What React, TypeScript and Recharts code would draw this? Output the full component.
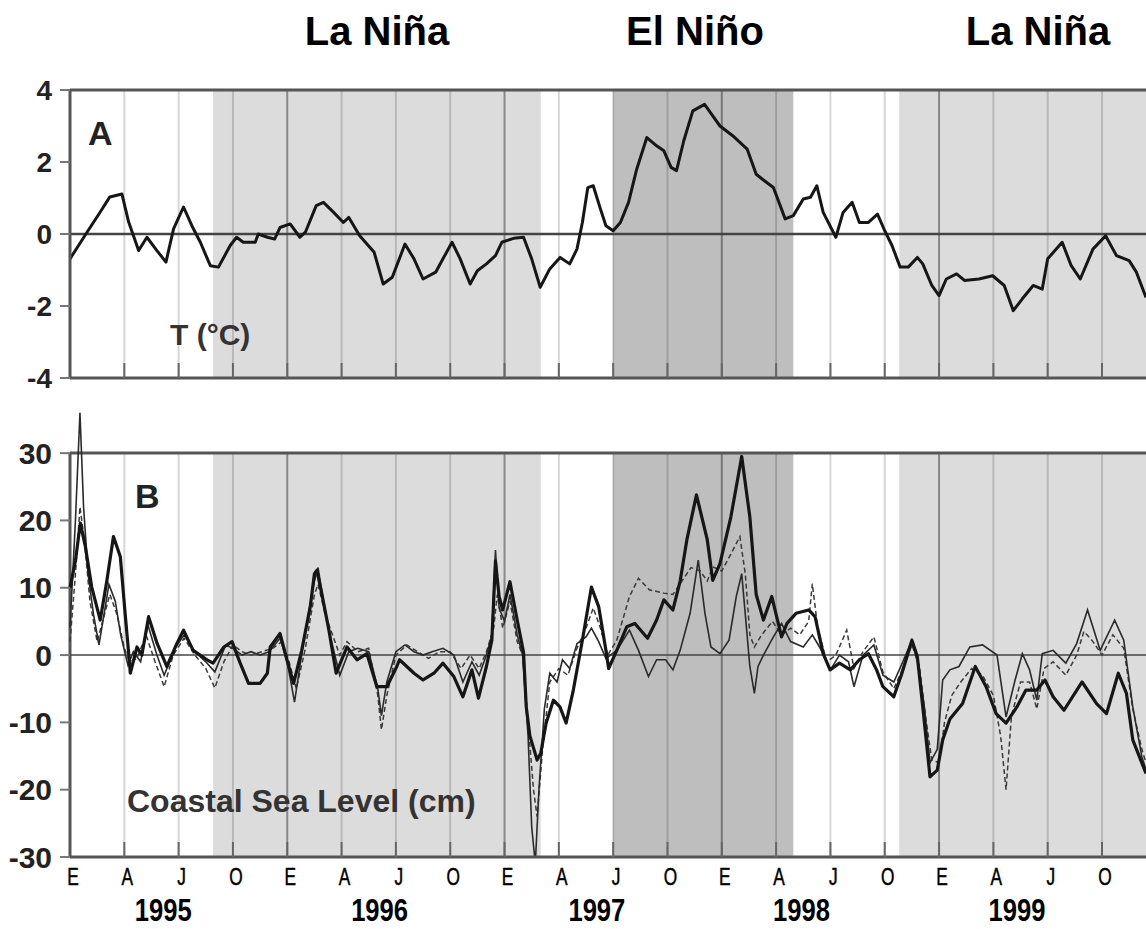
import React from "react";
import { ComposedChart, Line, XAxis, YAxis, ReferenceArea, ReferenceLine, ReferenceDot } from "recharts";

const FONT = '"Liberation Sans", Arial, Helvetica, sans-serif';
const X_MAX = 59.43; // months since Jan 1995

// x axis: quarter ticks (Spanish month initials) and year labels
const quarterTicks = [0, 3, 6, 9, 12, 15, 18, 21, 24, 27, 30, 33, 36, 39, 42, 45, 48, 51, 54, 57];
const quarterLetters = ["E", "A", "J", "O"];
const yearTicks = [5.15, 17.1, 29.1, 40.4, 52.3];
const yearLabels = ["1995", "1996", "1997", "1998", "1999"];

// ENSO phases (start / end month)
const phaseNames = ["La Niña", "El Niño", "La Niña"];
const phaseStart = [7.9, 30.0, 45.8];
const phaseEnd = [26.0, 39.95, X_MAX];
const phaseFill = ["#dcdcdc", "#bebebe", "#dcdcdc"];

const tempTicks = [-4, -2, 0, 2, 4];
const seaTicks = [-30, -20, -10, 0, 10, 20, 30];

// A: temperature anomaly (°C), [month, value]
const temperature: [number, number][] = [
  [0, -0.69], [0.94, 0.05], [1.67, 0.61], [2.2, 1.03], [2.87, 1.11], [3.24, 0.33], [3.79, -0.46],
  [4.25, -0.09], [4.8, -0.46], [5.3, -0.78], [5.72, 0.14], [6.27, 0.75], [6.73, 0.23], [7.2, -0.23],
  [7.75, -0.88], [8.2, -0.92], [8.85, -0.32], [9.2, -0.09], [9.57, -0.23], [10.23, -0.23], [10.4, 0],
  [10.9, -0.09], [11.3, -0.14], [11.6, 0.18], [12.16, 0.28], [12.7, -0.09], [13.0, 0.05], [13.6, 0.79],
  [14.0, 0.88], [14.56, 0.6], [15.1, 0.32], [15.4, 0.46], [16.0, -0.05], [16.8, -0.51], [17.3, -1.39],
  [17.8, -1.2], [18.5, -0.28], [19.0, -0.69], [19.5, -1.25], [20.2, -1.06], [20.6, -0.69], [21.1, -0.23],
  [21.55, -0.69], [22.1, -1.39], [22.5, -1.02], [23.0, -0.83], [23.5, -0.6], [23.85, -0.23], [24.5, -0.12],
  [25.05, -0.09], [25.5, -0.69], [25.97, -1.48], [26.5, -0.97], [27.07, -0.65], [27.6, -0.83], [28.0, -0.42],
  [28.3, 0.32], [28.6, 1.29], [28.9, 1.34], [29.3, 0.69], [29.6, 0.23], [30.0, 0.09], [30.4, 0.32],
  [30.85, 0.88], [31.3, 1.8], [31.86, 2.68], [32.4, 2.45], [32.8, 2.31], [33.2, 1.85], [33.5, 1.76],
  [33.9, 2.59], [34.4, 3.42], [35.05, 3.6], [35.5, 3.28], [35.9, 3.0], [36.6, 2.73], [37.4, 2.36],
  [37.9, 1.66], [38.3, 1.5], [38.85, 1.29], [39.5, 0.42], [39.95, 0.51], [40.5, 0.97], [40.9, 1.02],
  [41.25, 1.34], [41.6, 0.6], [42.3, -0.09], [42.7, 0.6], [43.2, 0.88], [43.6, 0.32], [44.1, 0.32],
  [44.6, 0.55], [45.0, 0.09], [45.4, -0.32], [45.85, -0.92], [46.3, -0.92], [46.8, -0.65], [47.1, -0.83],
  [47.6, -1.43], [48.0, -1.71], [48.4, -1.25], [48.97, -1.11], [49.4, -1.29], [50.2, -1.25], [50.96, -1.16],
  [51.6, -1.43], [52.1, -2.13], [52.6, -1.8], [53.2, -1.43], [53.7, -1.53], [54.0, -0.69], [54.8, -0.23],
  [55.3, -0.88], [55.8, -1.25], [56.5, -0.42], [57.2, -0.05], [57.8, -0.6], [58.5, -0.74], [58.9, -1.06],
  [59.43, -1.76],
];

// B: coastal sea level (cm), three stations, [month, value]
const seaBold: [number, number][] = [
  [0, 10], [0.3, 14], [0.57, 19.6], [0.85, 16.1], [1.2, 10.1], [1.67, 5.2], [2.04, 11.1], [2.4, 17.6],
  [2.78, 14.6], [3.05, 6], [3.24, 0.3], [3.33, -2.7], [3.7, 1.2], [3.97, 0], [4.34, 5.7], [4.8, 1.8],
  [5.35, -1.7], [5.9, 1.7], [6.27, 3.7], [6.8, 0.7], [7.57, -0.7], [7.9, -1.2], [8.5, 1.2], [8.95, 2.0],
  [9.4, -1.2], [9.86, -4.2], [10.5, -4.2], [10.9, -2.7], [11.06, 1.2], [11.6, 3.2], [11.98, -0.7],
  [12.35, -4.2], [12.8, 0.7], [13.27, 7.2], [13.5, 12.1], [13.64, 12.6], [13.9, 9.2], [14.3, 3.7],
  [14.7, -2.7], [15.3, 1.2], [15.85, -0.7], [16.4, 0.2], [16.95, -4.7], [17.5, -4.7], [18.05, -1.7],
  [18.2, -0.7], [19.0, -2.7], [19.5, -3.7], [20.1, -2.7], [20.6, -1.2], [21.2, -3.2], [21.7, -6.2],
  [22.2, -2.2], [22.56, -6.4], [23.0, -1.7], [23.3, 2.2], [23.5, 14], [23.7, 8.7], [23.9, 6.7],
  [24.3, 10.9], [24.7, 5.2], [25.05, 0.4], [25.2, -7.7], [25.4, -12], [25.8, -15.6], [26.0, -14.6],
  [26.3, -10.1], [26.7, -6.7], [27.06, -7.7], [27.4, -10.1], [27.8, -5.2], [28.3, 2.2], [28.8, 10.1],
  [29.2, 7.2], [29.6, 0.7], [29.75, -2.0], [30.2, 0.7], [30.75, 4.2], [31.2, 4.7], [31.9, 2.5],
  [32.4, 5.2], [32.8, 8.2], [33.3, 6.7], [33.7, 11], [34.07, 17.1], [34.6, 23.8], [35.2, 17.1],
  [35.5, 11.1], [35.9, 13.6], [36.5, 20.5], [37.1, 29.5], [37.55, 20.5], [37.9, 9], [38.3, 5.2],
  [38.76, 8.7], [39.3, 2.7], [39.6, 4.7], [40.1, 6.2], [40.8, 6.7], [41.15, 5.7], [41.6, 0.2],
  [41.98, -2.2], [42.5, -1.2], [43.1, -2.2], [43.6, -0.7], [44.1, 0.2], [44.55, -2.2], [44.9, -4.7],
  [45.5, -6.2], [45.95, -2.7], [46.5, 2.2], [46.8, -0.2], [47.1, -7.7], [47.5, -18.1], [47.9, -17.1],
  [48.2, -12.6], [48.6, -9.5], [49.3, -7.2], [50.0, -1.7], [50.6, -4.7], [51.15, -8.7], [51.7, -10.1],
  [52.3, -7.7], [52.8, -5.2], [53.4, -5.2], [53.85, -3.7], [54.3, -6.2], [54.9, -8.2], [55.9, -4.0],
  [56.7, -7.2], [57.25, -8.7], [57.9, -2.7], [58.35, -5.7], [58.7, -12.6], [59.43, -17.6],
];

const seaThin: [number, number][] = [
  [0, 4], [0.3, 20], [0.55, 36], [0.75, 22], [1.0, 12], [1.3, 6], [1.6, 1.5], [2.0, 8], [2.15, 10.5],
  [2.5, 8], [2.8, 3], [3.2, -1.5], [3.5, 0.5], [3.9, -1], [4.3, 4.5], [4.8, 0], [5.2, -3], [5.8, 1],
  [6.3, 3], [6.9, 0.5], [7.5, -1], [8.0, -2.5], [8.6, 1.5], [9.0, 1], [9.5, 0], [10.0, 0.5], [10.5, 0],
  [11.0, 0.5], [11.6, 2.5], [12.0, -1], [12.4, -7], [12.9, 2], [13.5, 11], [13.7, 13], [14.0, 8],
  [14.4, 2.5], [14.9, -3], [15.4, 0.5], [15.9, 1], [16.5, 0.5], [17.0, -5], [17.2, -9], [17.5, -4],
  [18.0, 0.5], [18.5, 1.5], [19.0, 0.5], [19.5, 0], [20.0, 0.5], [20.6, 1], [21.2, 0], [21.7, -4],
  [22.2, -1], [22.6, -3], [23.0, 0], [23.3, 3], [23.5, 15.6], [23.7, 7], [24.0, 5], [24.3, 9], [24.7, 3],
  [25.0, 0], [25.3, -12], [25.5, -25.5], [25.7, -31], [25.9, -20], [26.2, -8], [26.5, -2.7], [26.9, -4],
  [27.2, -0.7], [27.6, -2], [28.0, 1.7], [28.5, 2.7], [28.8, 4], [29.2, 2], [29.6, -0.5], [30.2, 0.7],
  [30.9, 3.7], [31.4, 0.7], [31.95, -3.2], [32.4, -0.7], [32.9, -0.7], [33.3, -2.2], [33.7, 0.7],
  [34.25, 6.2], [34.7, 14.1], [35.07, 6.2], [35.4, 1.2], [35.9, 0.2], [36.4, 2.2], [36.8, 8.7],
  [37.1, 12.1], [37.55, -1.7], [37.8, -5.7], [38.0, -1.7], [38.3, 0], [38.85, 2.7], [39.3, 4.7],
  [39.8, 2.0], [40.5, 1.2], [41.0, 3], [41.4, 1.2], [42.0, -2.2], [42.5, 0], [43.0, -1], [43.3, -4.7],
  [43.8, 0], [44.4, 1.5], [44.9, -3], [45.5, -4], [46.0, -1], [46.5, 2.2], [46.9, -2], [47.2, -8],
  [47.5, -16], [47.9, -14], [48.2, -3.7], [48.6, -2.2], [49.1, -1.7], [49.7, 1.2], [50.4, 1.5],
  [51.2, 0], [51.7, -9.2], [52.2, -3.7], [52.6, 0.2], [53.0, -2.2], [53.4, -6.7], [53.7, 0.2],
  [54.3, 0.7], [55.0, -1.2], [55.6, 1.7], [56.2, 6.7], [56.9, 0.7], [57.7, 5.2], [58.2, 2.2],
  [58.7, -7.7], [59.2, -15.1], [59.43, -17],
];

const seaDashed: [number, number][] = [
  [0, 2], [0.3, 12], [0.55, 22], [0.8, 17], [1.1, 8], [1.5, 2], [1.9, 6], [2.2, 9], [2.6, 6], [3.0, 1],
  [3.3, -1], [3.7, -0.5], [4.2, 3], [4.7, -1], [5.2, -4.7], [5.7, 0], [6.3, 2.5], [6.9, 0], [7.5, -2],
  [8.0, -4.9], [8.5, -1], [9.0, 1.5], [9.5, 0.5], [10.0, 0], [10.6, 0.5], [11.2, 1], [11.7, 2], [12.1, -1],
  [12.5, -5], [13.0, 1], [13.5, 9], [13.7, 10.5], [14.1, 6], [14.5, 3], [14.9, 0], [15.3, 2], [15.9, 0.5],
  [16.5, 1], [17.0, -6], [17.2, -11.1], [17.5, -6], [18.0, 0], [18.6, 1.5], [19.2, 0.5], [19.8, -0.5],
  [20.4, 0.5], [21.0, 0.5], [21.6, -2], [22.1, 0], [22.6, -2], [23.0, 0.5], [23.4, 4], [23.6, 9],
  [23.9, 4], [24.3, 8], [24.7, 2], [25.0, 0], [25.3, -10], [25.6, -20], [25.8, -24], [26.1, -14],
  [26.5, -4], [27.0, -2], [27.5, -3], [28.0, 1], [28.5, 4], [28.9, 7], [29.3, 4], [29.7, 0], [30.2, 2.2],
  [30.9, 8.7], [31.4, 11.4], [32.0, 9.7], [32.8, 9.2], [33.3, 9], [33.8, 11], [34.3, 13], [34.8, 12.5],
  [35.2, 11], [35.5, 13.1], [36.0, 12.5], [36.5, 15], [37.0, 17.6], [37.3, 12], [37.55, 3], [37.8, 1.2],
  [38.2, 3], [38.8, 5], [39.3, 3], [39.8, 4], [40.3, 3], [40.8, 5], [41.0, 10.6], [41.3, 4], [41.8, -1],
  [42.3, 0], [42.9, 3.7], [43.3, -2], [43.8, 0.5], [44.4, 2.7], [44.9, -2.5], [45.5, -5], [46.0, -2],
  [46.5, 1.5], [46.9, -1.5], [47.3, -10], [47.6, -15.6], [48.0, -16], [48.3, -10], [48.7, -6], [49.2, -4],
  [49.8, -2], [50.4, -3], [51.0, -6], [51.4, -12], [51.7, -20], [52.0, -9], [52.5, -4], [53.0, -4],
  [53.4, -8], [53.8, -2], [54.3, -1], [55.0, -3], [55.6, 0], [56.0, 3.5], [56.5, 2], [57.0, 0], [57.6, 3],
  [58.2, 1], [58.7, -8], [59.2, -14], [59.43, -16],
];

const toRows = (pts: [number, number][]) => pts.map(([m, v]) => ({ m, v }));

const gridStroke = (m: number) => (m % 12 === 0 ? "rgba(0,0,0,0.38)" : "rgba(0,0,0,0.16)");

function InnerTick(props: any) {
  const { x, y, payload } = props;
  if (payload.value === 0) return <g />;
  return <line x1={x} x2={x} y1={y} y2={y - 15} stroke="#666" strokeWidth={2} />;
}

function MonthTick(props: any) {
  const { x, y, payload } = props;
  const letter = quarterLetters[Math.round(payload.value / 3) % 4];
  return (
    <g>
      {payload.value > 0 && <line x1={x} x2={x} y1={y} y2={y - 15} stroke="#666" strokeWidth={2} />}
      <text
        transform={`translate(${x + 3},${y + 28}) scale(0.72,1)`}
        textAnchor="middle"
        fontSize={24}
        fontFamily={FONT}
        fill="#000"
        stroke="#000"
        strokeWidth={0.5}
      >
        {letter}
      </text>
    </g>
  );
}

// year caption drawn under the month row, anchored on a zero-size reference dot at y = -30
function yearLabel(text: string) {
  return (p: any) => {
    const vb = p.viewBox || {};
    const cx = (vb.x ?? 0) + (vb.width ?? 0) / 2;
    const cy = (vb.y ?? 0) + (vb.height ?? 0) / 2;
    return (
      <text
        transform={`translate(${cx},${cy + 64}) scale(0.8,1)`}
        textAnchor="middle"
        fontSize={32}
        fontWeight={700}
        fontFamily={FONT}
        fill="#000"
      >
        {text}
      </text>
    );
  };
}

const yTickStyle = { fill: "#222", fontSize: 28, fontWeight: 700, fontFamily: FONT };

const labelStyle: React.CSSProperties = {
  position: "absolute",
  fontFamily: FONT,
  fontWeight: 700,
  lineHeight: 1,
  whiteSpace: "nowrap",
  color: "#222",
};

export default function App() {
  const tempRows = toRows(temperature);
  return (
    <div style={{ position: "absolute", left: 0, top: 0, width: 1146, height: 929, background: "#fff", overflow: "hidden" }}>
      {/* Panel A: temperature */}
      <div style={{ position: "absolute", left: 0, top: 0 }}>
        <ComposedChart width={1146} height={400} margin={{ top: 90, right: 0, bottom: 0, left: 0 }}>
          <XAxis
            dataKey="m"
            type="number"
            domain={[0, X_MAX]}
            ticks={quarterTicks}
            interval={0}
            height={22}
            tickSize={0}
            tickMargin={0}
            tickLine={false}
            axisLine={{ stroke: "#555", strokeWidth: 3 }}
            tick={(p: any) => <InnerTick {...p} />}
          />
          <YAxis
            type="number"
            domain={[-4, 4]}
            ticks={tempTicks}
            width={70}
            tickSize={10}
            tickMargin={8}
            axisLine={{ stroke: "#555", strokeWidth: 3 }}
            tickLine={{ stroke: "#777", strokeWidth: 2 }}
            tick={yTickStyle}
          />
          {phaseStart.map((s, i) => (
            <ReferenceArea key={`pa${i}`} x1={s} x2={phaseEnd[i]} fill={phaseFill[i]} fillOpacity={1} stroke="none" />
          ))}
          {quarterTicks.filter((m) => m > 0).map((m) => (
            <ReferenceLine key={`ga${m}`} x={m} stroke={gridStroke(m)} strokeWidth={2} />
          ))}
          <ReferenceLine y={4} stroke="#555" strokeWidth={3} />
          <ReferenceLine y={0} stroke="#444" strokeWidth={2.5} />
          <Line
            data={tempRows}
            dataKey="v"
            type="linear"
            stroke="#161616"
            strokeWidth={3}
            strokeLinejoin="round"
            dot={false}
            activeDot={false}
            isAnimationActive={false}
          />
        </ComposedChart>
      </div>

      {/* Panel B: coastal sea level */}
      <div style={{ position: "absolute", left: 0, top: 380 }}>
        <ComposedChart width={1146} height={549} margin={{ top: 26, right: 0, bottom: 2, left: 0 }}>
          <XAxis
            dataKey="m"
            type="number"
            domain={[0, X_MAX]}
            ticks={quarterTicks}
            interval={0}
            height={70}
            tickSize={0}
            tickMargin={0}
            tickLine={false}
            axisLine={{ stroke: "#555", strokeWidth: 3 }}
            tick={(p: any) => <MonthTick {...p} />}
          />
          <YAxis
            type="number"
            domain={[-30, 37]}
            allowDataOverflow
            ticks={seaTicks}
            width={70}
            tickSize={10}
            tickMargin={8}
            axisLine={false}
            tickLine={{ stroke: "#777", strokeWidth: 2 }}
            tick={{ ...yTickStyle, fontSize: 30 }}
          />
          {phaseStart.map((s, i) => (
            <ReferenceArea key={`pb${i}`} x1={s} x2={phaseEnd[i]} y1={-30} y2={30} fill={phaseFill[i]} fillOpacity={1} stroke="none" />
          ))}
          {quarterTicks.filter((m) => m > 0).map((m) => (
            <ReferenceLine
              key={`gb${m}`}
              segment={[{ x: m, y: -30 }, { x: m, y: 30 }]}
              stroke={gridStroke(m)}
              strokeWidth={2}
            />
          ))}
          <ReferenceLine y={30} stroke="#555" strokeWidth={3} />
          <ReferenceLine segment={[{ x: 0, y: -30 }, { x: 0, y: 30 }]} stroke="#555" strokeWidth={3} />
          <ReferenceLine y={0} stroke="#444" strokeWidth={1.6} />
          <Line
            data={toRows(seaDashed)}
            dataKey="v"
            type="linear"
            stroke="#3a3a3a"
            strokeWidth={1.5}
            strokeDasharray="5 3"
            dot={false}
            activeDot={false}
            isAnimationActive={false}
          />
          <Line
            data={toRows(seaThin)}
            dataKey="v"
            type="linear"
            stroke="#2a2a2a"
            strokeWidth={1.6}
            dot={false}
            activeDot={false}
            isAnimationActive={false}
          />
          <Line
            data={toRows(seaBold)}
            dataKey="v"
            type="linear"
            stroke="#161616"
            strokeWidth={3.2}
            strokeLinejoin="round"
            dot={false}
            activeDot={false}
            isAnimationActive={false}
          />
          {yearTicks.map((t, i) => (
            <ReferenceDot
              key={`yr${i}`}
              x={t}
              y={-30}
              r={0}
              fill="none"
              stroke="none"
              label={yearLabel(yearLabels[i])}
            />
          ))}
        </ComposedChart>
      </div>

      {/* phase titles */}
      <div style={{ ...labelStyle, fontSize: 40, top: 11, left: 377, transform: "translateX(-50%)", color: "#000" }}>{phaseNames[0]}</div>
      <div style={{ ...labelStyle, fontSize: 40, top: 11, left: 695, transform: "translateX(-50%)", color: "#000" }}>{phaseNames[1]}</div>
      <div style={{ ...labelStyle, fontSize: 40, top: 11, left: 1038, transform: "translateX(-50%)", color: "#000" }}>{phaseNames[2]}</div>

      {/* panel annotations */}
      <div style={{ ...labelStyle, fontSize: 34, top: 116, left: 88 }}>A</div>
      <div style={{ ...labelStyle, fontSize: 30, top: 320, left: 170, color: "#333" }}>T (°C)</div>
      <div style={{ ...labelStyle, fontSize: 34, top: 479, left: 135 }}>B</div>
      <div style={{ ...labelStyle, fontSize: 32, top: 785, left: 127, color: "#333" }}>Coastal Sea Level (cm)</div>
    </div>
  );
}
